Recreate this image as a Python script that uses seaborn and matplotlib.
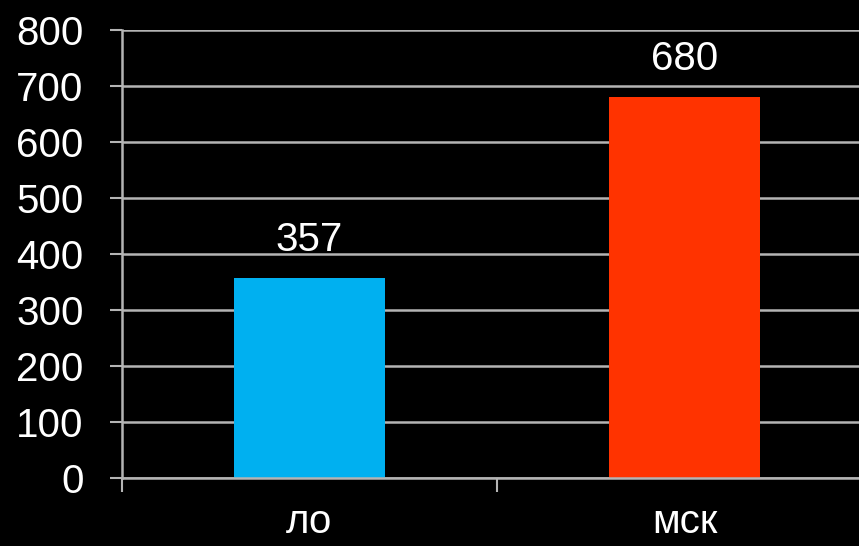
import pandas as pd
import matplotlib.pyplot as plt
import seaborn as sns

# data
categories = ["ло", "мск"]
values = [357, 680]
bar_colors = ["#00B0F0", "#FF3300"]

sns.set_theme(style="dark")
plt.rcParams['font.family'] = ['Liberation Sans', 'DejaVu Sans']

df = pd.DataFrame({"cat": categories, "val": values})

fig = plt.figure(figsize=(8.59, 5.46), dpi=100, facecolor="black")
# axes run a little past the right edge, as in the cropped original
ax = fig.add_axes([122 / 859, 68 / 546, 750 / 859, 448 / 546])
ax.set_facecolor("black")

sns.barplot(data=df, x="cat", y="val", hue="cat", palette=bar_colors,
            width=0.405, legend=False, ax=ax, saturation=1,
            edgecolor="none", linewidth=0)

ax.set_ylim(0, 800)
ax.set_xlim(-0.5, 1.5)
ax.set_yticks(range(0, 801, 100))
ax.set_xlabel("")
ax.set_ylabel("")

grid_col = "#b4b4b4"
ax.grid(axis="y", color=grid_col, linewidth=1.8)
ax.grid(axis="x", visible=False)
ax.set_axisbelow(True)
for s in ["top", "right"]:
    ax.spines[s].set_visible(False)
for s in ["left", "bottom"]:
    ax.spines[s].set_visible(True)
    ax.spines[s].set_color(grid_col)
    ax.spines[s].set_linewidth(1.8)

# y ticks: outward marks, big labels
ax.tick_params(axis="y", colors=grid_col, length=8.6, width=1.5, direction="out",
               labelsize=29, labelcolor="white", pad=19, left=True)
# x ticks sit between the categories
ax.set_xticks([0, 1])
ax.set_xticklabels(categories)
ax.tick_params(axis="x", length=0, labelsize=29, labelcolor="white", pad=18)
ax.set_xticks([-0.5, 0.5, 1.5], minor=True)
ax.tick_params(axis="x", which="minor", length=10, width=1.5, colors=grid_col,
               direction="out", bottom=True)

for i, v in enumerate(values):
    ax.annotate(f"{v}", (i, v), xytext=(0, 14), textcoords="offset points",
                ha="center", va="bottom", color="white", fontsize=29)

fig.savefig("out.png", dpi=100, facecolor="black")
